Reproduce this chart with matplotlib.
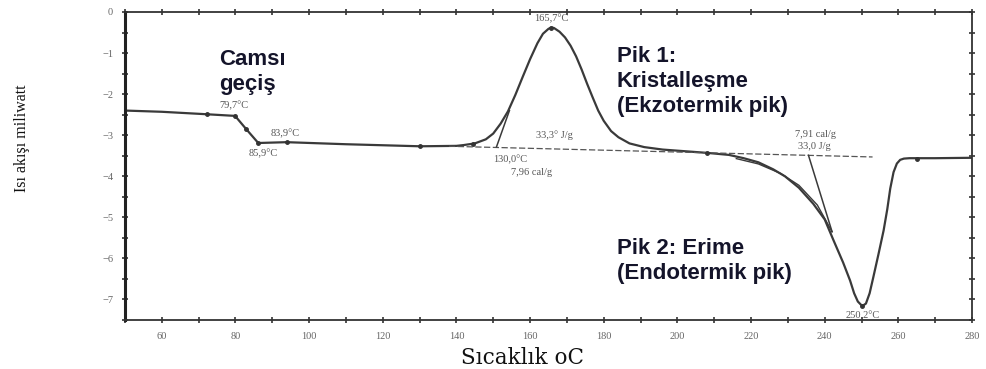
import numpy as np
import matplotlib.pyplot as plt
from matplotlib.ticker import MultipleLocator

# DSC curve (temperature in C, heat flow in mW)
temp = [50, 60, 72.2, 79.9, 83.0, 86.2, 93.9, 110, 130.1, 140, 142, 145, 148,
        150, 152, 154, 156, 158, 160, 162, 163.5, 165, 165.7, 166.5, 168,
        169.5, 171, 172.5, 174, 175.5, 177, 178.5, 180, 182, 184, 187, 191,
        196, 202, 208, 214, 218, 222, 226, 229.2, 233, 236.9, 240, 242.4, 245,
        246.9, 248, 249, 250.2, 251.2, 252.2, 253.2, 254.6, 256, 257, 257.8,
        258.7, 259.6, 260.5, 261.5, 263, 270, 280]
flow = [-2.40, -2.43, -2.49, -2.53, -2.86, -3.19, -3.17, -3.22, -3.27, -3.26,
        -3.24, -3.20, -3.10, -2.96, -2.72, -2.42, -2.02, -1.58, -1.15, -0.76,
        -0.53, -0.41, -0.38, -0.39, -0.48, -0.62, -0.82, -1.08, -1.40, -1.75,
        -2.08, -2.40, -2.65, -2.90, -3.05, -3.20, -3.29, -3.35, -3.39, -3.43,
        -3.48, -3.56, -3.66, -3.83, -4.00, -4.28, -4.67, -5.05, -5.56, -6.10,
        -6.54, -6.85, -7.05, -7.16, -7.10, -6.85, -6.46, -5.90, -5.32, -4.80,
        -4.30, -3.90, -3.69, -3.60, -3.57, -3.56, -3.56, -3.55]

# second trace under the melting onset
melt_t = [216, 222, 228, 233, 238, 242]
melt_f = [-3.57, -3.70, -3.93, -4.22, -4.70, -5.35]

# construction lines
base_t = [138, 253]
base_f = [-3.27, -3.53]
onset1_t = [150.9, 154.4]
onset1_f = [-3.28, -2.40]
onset2_t = [235.6, 242.0]
onset2_f = [-3.49, -5.35]
dot_t = [72.2, 79.9, 83.0, 86.2, 93.9, 130.1, 144.5, 165.7, 208, 250.2, 265]
dot_f = [-2.49, -2.53, -2.86, -3.19, -3.17, -3.27, -3.22, -0.38, -3.43, -7.16, -3.57]

# small data labels (x, y, text)
small_labels = [
    (79.7, -2.27, '79,7°C'),
    (93.5, -2.95, '83,9°C'),
    (87.5, -3.45, '85,9°C'),
    (165.7, -0.17, '165,7°C'),
    (166.5, -3.0, '33,3° J/g'),
    (154.5, -3.6, '130,0°C'),
    (160.5, -3.9, '7,96 cal/g'),
    (237.5, -2.98, '7,91 cal/g'),
    (237.3, -3.27, '33,0 J/g'),
    (250.2, -7.4, '250,2°C'),
]

xticks = [60, 80, 100, 120, 140, 160, 180, 200, 220, 240, 260, 280]
yticks = [0, -1, -2, -3, -4, -5, -6, -7]
ytick_labels = ['0', '−1', '−2', '−3', '−4', '−5', '−6', '−7']

fig = plt.figure(figsize=(9.87, 3.69), dpi=100)
ax = fig.add_axes([0.1266, 0.1328, 0.8582, 0.8347])

line_col = '#3a3a3a'
ax.plot(temp, flow, color=line_col, lw=1.6)
ax.plot(melt_t, melt_f, color=line_col, lw=1.0)
ax.plot(base_t, base_f, color='#555555', lw=0.9, linestyle=(0, (5, 2)))
ax.plot(onset1_t, onset1_f, color=line_col, lw=1.1)
ax.plot(onset2_t, onset2_f, color=line_col, lw=1.1)
ax.plot(dot_t, dot_f, linestyle='none', marker='o', ms=2.5, color='#333333')

for x, y, s in small_labels:
    ax.text(x, y, s, ha='center', va='center', fontsize=7.5,
            family='Liberation Serif', color='#555555')

big = dict(fontsize=16, family='Liberation Sans', fontweight='bold',
           color='#14142a', ha='left', va='top', linespacing=1.25)
ax.text(75.5, -0.9, 'Camsı\ngeçiş', **big)
ax.text(183.5, -0.84, 'Pik 1:\nKristalleşme\n(Ekzotermik pik)', **big)
ax.text(183.5, -5.5, 'Pik 2: Erime\n(Endotermik pik)', **big)

ax.set_xlim(50, 280)
ax.set_ylim(-7.5, 0)
ax.set_xticks(xticks)
ax.set_xticklabels([str(t) for t in xticks])
ax.set_yticks(yticks)
ax.set_yticklabels(ytick_labels)
ax.xaxis.set_minor_locator(MultipleLocator(10))
ax.yaxis.set_minor_locator(MultipleLocator(0.5))
ax.tick_params(which='both', direction='inout', top=True, right=True,
               length=5, width=1.2, color='#333333',
               labelsize=7.5, labelcolor='#666666')
for lab in ax.get_xticklabels() + ax.get_yticklabels():
    lab.set_family('Liberation Serif')
ax.tick_params(axis='y', pad=6)
ax.tick_params(axis='x', pad=6)

for side in ['top', 'right', 'bottom']:
    ax.spines[side].set_linewidth(1.3)
    ax.spines[side].set_color('#333333')
ax.spines['left'].set_linewidth(2.2)
ax.spines['left'].set_color('#222222')

fig.text(0.022, 0.625, 'Isı akışı miliwatt', rotation=90, ha='center',
         va='center', fontsize=11.5, family='Liberation Serif', color='#111111')
fig.text(0.529, 0.03, 'Sıcaklık oC', ha='center', va='center', fontsize=15.5,
         family='DejaVu Serif', color='#111111')

fig.savefig('out.png', dpi=100)
